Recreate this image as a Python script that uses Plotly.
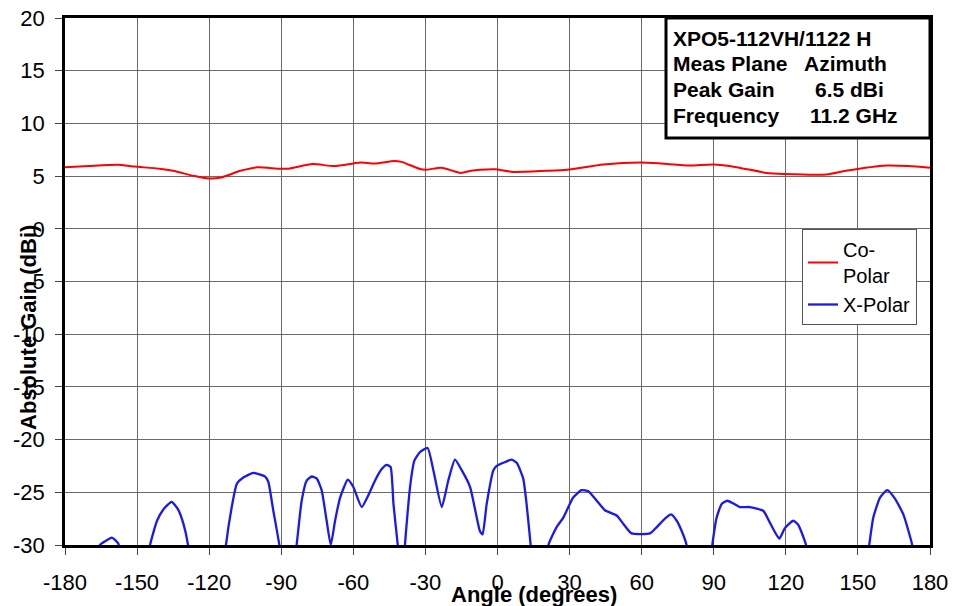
import plotly.graph_objects as go

# ---- data ----
co_angle = [-180, -170, -158, -151, -140.6, -135, -126, -120.5, -115, -107, -100, -91, -87,
            -77, -68, -60, -57, -51, -43, -40, -32.6, -30, -23.3, -15.3, -11, -7.3, -1,
            6.4, 20, 29, 44, 59.5, 68, 80, 89.7, 99.5, 112, 119, 137, 145, 162, 171, 180]
co_gain = [5.83, 5.95, 6.07, 5.9, 5.7, 5.5, 5.0, 4.78, 4.87, 5.5, 5.83, 5.7, 5.7,
           6.14, 5.95, 6.2, 6.3, 6.2, 6.43, 6.35, 5.7, 5.6, 5.8, 5.3, 5.5, 5.6, 5.65,
           5.4, 5.5, 5.6, 6.1, 6.3, 6.2, 6.0, 6.1, 5.85, 5.3, 5.2, 5.15, 5.5, 6.0, 5.95, 5.8]

x_angle = [-180, -168, -165.5, -163, -160.5, -158, -156.5, -152, -147, -144.6, -141.7, -139,
           -135.6, -133, -130.7, -128.8, -126, -120, -115, -113, -110.6, -108.5, -105.8,
           -101.6, -99, -96.8, -95.4, -93.3, -90.8, -89, -86, -83.6, -81.5, -79.4, -77.3,
           -75.2, -73.2, -71.1, -69.4, -67.6, -65.5, -62.3, -60, -56.5, -53.8, -51, -48.2,
           -46.1, -44.5, -43.3, -41.5, -40, -39, -38.5, -36.4, -34.6, -32.3, -29.1, -26.7,
           -23.2, -20.5, -17.7, -14.9, -11.4, -7.3, -6.2, -4.5, -1.7, -0.3, 2.4, 5.9, 8.0,
           10.7, 12.1, 13.8, 15.5, 19.5, 21.2, 24.6, 27.4, 31.5, 35, 37.8, 41.3, 44.7, 49.6,
           52.4, 55.8, 63.5, 66.3, 69.7, 72.2, 74.6, 76.7, 78.7, 81, 85, 87.5, 89.4, 91.2,
           93.3, 95.6, 98.1, 100.9, 105, 110.6, 113.4, 115.5, 117.3, 119.6, 123.1, 125.2,
           128.4, 131, 140, 152, 154.7, 156.4, 159.2, 162.2, 165.4, 168.9, 172.6, 175, 180]
x_gain = [-40, -34, -30, -29.6, -29.3, -29.8, -31, -38, -34, -30, -27.7, -26.6,
          -25.9, -26.6, -28.0, -30, -36, -42, -35, -30, -26.4, -24.2, -23.6,
          -23.15, -23.3, -23.5, -24.0, -26.75, -30, -34, -34, -30, -25.8, -23.9, -23.5,
          -23.7, -24.8, -27.7, -30.0, -27.7, -25.5, -23.8, -24.5, -26.4, -25.3, -23.9, -22.8,
          -22.4, -22.6, -26.1, -30, -33, -33, -30, -24.5, -22.0, -21.2, -20.8, -22.9,
          -26.4, -23.9, -21.9, -22.9, -24.5, -28.7, -29.0, -26.1, -22.9, -22.5, -22.2, -21.9, -22.2,
          -23.7, -26.1, -30, -34, -34, -30, -28.3, -27.4, -25.5, -24.8, -24.9, -25.8, -26.7, -27.2,
          -28.0, -28.9, -28.9, -28.3, -27.5, -27.1, -27.7, -28.7, -30, -34, -38, -34, -30, -27.4,
          -26.1, -25.8, -26.05, -26.4, -26.4, -26.75, -27.9, -28.8, -29.4, -28.4, -27.7, -28.1,
          -30, -34, -42, -34, -30, -27.4, -25.5, -24.8, -25.6, -27.1, -30, -34, -40]

x_ticks = [-180, -150, -120, -90, -60, -30, 0, 30, 60, 90, 120, 150, 180]
y_ticks = [-30, -25, -20, -15, -10, -5, 0, 5, 10, 15, 20]

info_labels = ["Meas Plane", "Peak Gain", "Frequency"]
info_values = ["Azimuth", "6.5 dBi", "11.2 GHz"]
info_title = "XPO5-112VH/1122 H"

FONT = "Liberation Sans, Arial, sans-serif"
W, H = 963, 606
# margins chosen so that the plot area lands at screen px x 65..930, y 18..545
# (page body adds an 8px offset)
L, R, T, B = 57, 41, 10, 69
# plot area in screen pixels (used only to place paper-referenced overlays)
SL, SR, ST, SB = 65, 930, 18, 545


def px_x(px):
    return (px - SL) / (SR - SL)


def px_y(py):
    return (SB - py) / (SB - ST)


fig = go.Figure()
fig.add_trace(go.Scatter(x=co_angle, y=co_gain, mode="lines", name="Co-<br>Polar",
                         line=dict(color="#ff0000", width=2, shape="spline", smoothing=0.6)))
fig.add_trace(go.Scatter(x=x_angle, y=x_gain, mode="lines", name="X-Polar",
                         line=dict(color="#1a1aee", width=2.3, shape="spline", smoothing=0.5)))

axis_common = dict(showgrid=True, gridcolor="#6a6a6a", gridwidth=1, showline=True,
                   linecolor="black", linewidth=2.5, mirror=True, ticks="outside",
                   ticklen=7, tickcolor="#444", tickwidth=1, automargin=False,
                   ticklabeloverflow="allow",
                   tickfont=dict(family=FONT, size=22, color="black"), zeroline=False)

fig.update_xaxes(range=[-180, 180], tickvals=x_ticks, ticktext=[str(v) for v in x_ticks],
                 ticklabelstandoff=9, **axis_common)
fig.update_yaxes(range=[-30, 20], tickvals=y_ticks, ticktext=[str(v) for v in y_ticks],
                 ticklabelstandoff=6, **axis_common)

# info box
fig.add_shape(type="rect", xref="paper", yref="paper", x0=px_x(666), x1=px_x(930),
              y0=px_y(138), y1=px_y(18), line=dict(color="black", width=3),
              fillcolor="white", layer="above")

bold = dict(family=FONT, size=21, color="black")
fig.add_annotation(xref="paper", yref="paper", x=px_x(671), y=px_y(39), xanchor="left",
                   yanchor="middle", text="<b>%s</b>" % info_title, showarrow=False, font=bold)
rows_y = [63, 89, 115]
vals_x = [802, 813, 808]
for lab, val, ry, vx in zip(info_labels, info_values, rows_y, vals_x):
    fig.add_annotation(xref="paper", yref="paper", x=px_x(671), y=px_y(ry), xanchor="left",
                       yanchor="middle", text="<b>%s</b>" % lab, showarrow=False, font=bold)
    fig.add_annotation(xref="paper", yref="paper", x=px_x(vx), y=px_y(ry), xanchor="left",
                       yanchor="middle", text="<b>%s</b>" % val, showarrow=False, font=bold)

# axis titles
fig.add_annotation(xref="paper", yref="paper", x=px_x(534), y=px_y(594), xanchor="center",
                   yanchor="middle", text="<b>Angle (degrees)</b>", showarrow=False,
                   font=dict(family=FONT, size=22, color="black"))
fig.add_annotation(xref="paper", yref="paper", x=px_x(28), y=px_y(328), xanchor="center",
                   yanchor="middle", text="<b>Absolute Gain (dBi)</b>", showarrow=False,
                   textangle=-90, font=dict(family=FONT, size=22, color="black"))

fig.update_layout(
    width=W, height=H, margin=dict(l=L, r=R, t=T, b=B, autoexpand=False),
    paper_bgcolor="white", plot_bgcolor="white",
    showlegend=True,
    legend=dict(x=px_x(802), y=px_y(229), xanchor="left", yanchor="top",
                bgcolor="white", bordercolor="#555", borderwidth=1,
                font=dict(family=FONT, size=20, color="black"), tracegroupgap=0),
)

fig.write_html("out.html")
